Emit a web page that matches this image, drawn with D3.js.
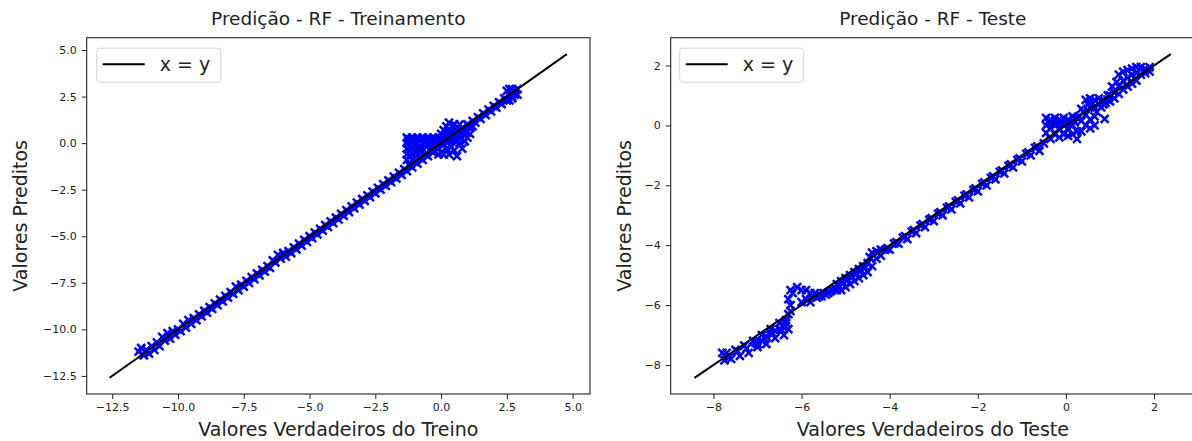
<!DOCTYPE html>
<html>
<head>
<meta charset="utf-8">
<script src="https://cdn.jsdelivr.net/npm/d3@7"></script>
<style>
body { margin: 0; background: #fff; }
text { font-family: "DejaVu Sans", sans-serif; }
</style>
</head>
<body>
<div id="chart"></div>
<script>
//Width and height
var w = 1192;
var h = 441;

// Treino: valores verdadeiros x preditos
var trainTrue = [
  -11.5,-11.4,-11.3,-11.2,-11.1,-11.0,-10.9,-10.8,-10.7,-10.6,
  -10.5,-10.4,-10.3,-10.2,-10.1,-10.0,-9.9,-9.8,-9.7,-9.6,
  -9.5,-9.4,-9.3,-9.2,-9.1,-9.0,-8.9,-8.8,-8.7,-8.6,
  -8.5,-8.4,-8.3,-8.2,-8.1,-8.0,-7.9,-7.8,-7.7,-7.6,
  -7.5,-7.4,-7.3,-7.2,-7.1,-7.0,-6.9,-6.8,-6.7,-6.6,
  -6.5,-6.4,-6.3,-6.2,-6.1,-6.0,-5.9,-5.8,-5.7,-5.6,
  -5.5,-5.4,-5.3,-5.2,-5.1,-5.0,-4.9,-4.8,-4.7,-4.6,
  -4.5,-4.4,-4.3,-4.2,-4.1,-4.0,-3.9,-3.8,-3.7,-3.6,
  -3.5,-3.4,-3.3,-3.2,-3.1,-3.0,-2.9,-2.8,-2.7,-2.6,
  -2.5,-2.4,-2.3,-2.2,-2.1,-2.0,-1.9,-1.8,-1.7,-1.6,
  -1.5,-1.4,-1.3,-1.2,-1.1,-1.0,-0.9,-0.8,-0.7,-0.6,
  -0.5,-0.4,-0.3,-0.2,-0.1,0.0,0.1,0.2,0.3,0.4,
  0.5,0.6,0.7,0.8,0.9,1.0,1.1,1.2,1.3,1.4,
  1.5,1.6,1.7,1.8,1.9,2.0,2.1,2.2,2.3,2.4,
  2.5,2.6,2.7,2.8,2.9,
  -1.3,-1.3,-1.3,-1.3,-1.2,-1.2,-1.2,-1.1,-1.1,-1.1,-1.0,-1.0,-1.0,-0.9,-0.9,-0.9,
  -0.8,-0.8,-0.8,-0.7,-0.7,-0.7,-0.6,-0.6,-0.5,-0.5,-0.4,-0.4,-0.3,-0.3,-0.2,-0.1,
  0.0,0.0,0.1,0.1,0.2,0.2,0.3,0.3,0.4,0.4,0.5,0.5,0.6,0.6,0.7,0.7,0.8,0.8,0.9,0.9,
  1.0,1.0,1.1,1.1,1.2,-0.1,0.2,0.4,0.6,-1.3,-1.2,-1.1,
  2.5,2.6,2.7,2.8,2.9,2.7,2.6,
  -1.25,-1.15,-1.05,-0.95,-0.85,-0.75,-0.65,-0.55,-0.45,-0.35,-0.25,-0.15,
  0.05,0.15,0.25,0.35,0.45,0.55,0.65,0.75
];
var trainPred = [
  -11.2,-11.0,-11.4,-11.1,-11.3,-10.9,-11.1,-10.7,-10.9,-10.4,
  -10.6,-10.2,-10.5,-10.1,-10.3,-10.0,-10.1,-9.7,-9.9,-9.5,
  -9.7,-9.4,-9.5,-9.2,-9.3,-9.0,-9.1,-8.8,-8.9,-8.6,
  -8.7,-8.4,-8.5,-8.2,-8.3,-8.0,-8.1,-7.7,-7.9,-7.6,
  -7.7,-7.4,-7.5,-7.2,-7.3,-7.0,-7.1,-6.8,-6.9,-6.6,
  -6.7,-6.3,-6.4,-6.0,-6.2,-5.9,-6.1,-5.8,-5.9,-5.6,
  -5.7,-5.4,-5.5,-5.2,-5.3,-5.0,-5.1,-4.8,-4.9,-4.6,
  -4.7,-4.4,-4.5,-4.2,-4.3,-4.0,-4.1,-3.8,-3.9,-3.6,
  -3.7,-3.4,-3.5,-3.2,-3.3,-3.0,-3.1,-2.8,-2.9,-2.6,
  -2.7,-2.4,-2.5,-2.2,-2.3,-2.0,-2.1,-1.8,-1.9,-1.6,
  -1.7,-1.4,-1.5,-1.2,-1.3,-1.0,-1.1,-0.8,-0.9,-0.6,
  -0.7,-0.4,-0.5,-0.2,-0.3,0.0,-0.1,0.2,0.1,0.4,
  0.3,0.6,0.5,0.8,0.7,1.0,0.9,1.2,1.1,1.4,
  1.3,1.6,1.5,1.8,1.7,2.0,1.9,2.2,2.1,2.4,
  2.3,2.6,2.5,2.8,2.6,
  0.3,0.0,-0.3,-0.6,0.2,-0.1,-0.4,0.3,-0.2,-0.6,0.2,-0.1,-0.4,0.3,0.0,-0.3,
  0.2,-0.2,-0.5,0.3,0.0,-0.3,0.2,-0.1,0.3,0.0,0.2,-0.1,0.3,0.1,0.2,0.3,
  0.5,-0.5,0.7,-0.6,0.9,-0.3,1.1,-0.6,0.9,-0.2,1.0,-0.4,0.8,-0.7,1.0,0.0,0.7,-0.3,0.4,0.1,
  0.6,0.3,0.5,0.8,0.9,-0.6,0.5,0.6,0.2,-0.9,-0.7,-0.9,
  2.8,2.9,2.9,2.6,2.9,2.4,2.3,
  0.15,-0.25,0.1,-0.5,0.15,-0.35,0.05,-0.2,0.1,-0.25,0.05,0.1,
  0.3,0.4,0.6,0.2,0.5,0.1,0.4,0.3
];

// Teste: valores verdadeiros x preditos
var testTrue = [
  -7.8,-7.75,-7.7,-7.6,-7.5,-7.4,-7.3,-7.2,-7.1,-7.0,
  -6.9,-6.8,-6.7,-6.6,-6.5,-6.4,-6.35,-6.3,-6.25,-6.3,
  -6.25,-6.3,-6.2,-6.25,-6.1,-6.0,-6.0,-5.9,-5.9,-5.8,
  -5.8,-5.7,-5.6,-5.5,-5.4,-5.3,-5.2,-5.2,-5.1,-5.1,
  -5.0,-5.0,-4.9,-4.9,-4.8,-4.8,-4.7,-4.7,-4.6,-4.6,
  -4.5,-4.5,-4.45,-4.4,-4.4,-4.3,-4.3,-4.2,-4.2,-4.1,
  -4.0,-3.9,-3.8,-3.7,-3.6,-3.5,-3.4,-3.3,-3.2,-3.1,
  -3.0,-2.9,-2.8,-2.7,-2.6,-2.5,-2.4,-2.3,-2.2,-2.1,
  -2.0,-1.9,-1.8,-1.7,-1.6,-1.5,-1.4,-1.3,-1.2,-1.1,
  -1.0,-0.9,-0.8,-0.7,-0.6,-0.5,
  -7.0,-6.9,-6.8,-6.7,-6.6,-6.5,-6.4,-6.35,
  -0.45,-0.45,-0.45,-0.35,-0.35,-0.35,-0.25,-0.25,-0.25,-0.15,-0.15,-0.15,
  -0.05,-0.05,-0.05,0.05,0.05,0.05,0.15,0.15,0.15,0.25,0.25,0.25,
  0.35,0.35,0.35,0.45,0.45,0.45,0.55,0.55,0.55,0.55,0.65,0.65,0.65,0.65,
  0.75,0.75,0.85,0.85,0.95,0.95,0.88,
  1.0,1.0,1.05,1.1,1.1,1.15,1.2,1.2,1.2,1.3,1.3,1.3,1.4,1.4,1.4,
  1.5,1.5,1.5,1.6,1.6,1.6,1.7,1.7,1.8,1.8,1.9,1.9,
  -7.65,-7.45,-7.25,-7.05,-6.85,-6.65,-6.45,
  -5.75,-5.65,-5.55,-5.45,-5.35,-5.25,-5.15,-5.05,-4.95,-4.85,-4.75,-4.65,-4.55,
  -4.05,-3.85,-3.65,-3.45,-3.25,-3.05,-2.85,-2.65,-2.45,-2.25,-2.05,-1.85,-1.65,
  -1.45,-1.25,-1.05,-0.85,-0.65,
  -0.4,-0.3,-0.2,-0.1,0.0,0.1,0.2,0.3,0.4,0.5,0.6,0.7,0.8,0.9
];
var testPred = [
  -7.6,-7.85,-7.6,-7.8,-7.5,-7.7,-7.35,-7.6,-7.2,-7.4,
  -7.0,-7.3,-6.8,-7.1,-6.6,-7.0,-6.5,-6.8,-6.2,-6.3,
  -6.0,-5.8,-5.6,-5.5,-5.4,-5.5,-5.9,-5.5,-5.8,-5.6,
  -5.9,-5.6,-5.7,-5.6,-5.6,-5.5,-5.3,-5.5,-5.2,-5.5,
  -5.1,-5.4,-5.0,-5.3,-4.9,-5.2,-4.8,-5.1,-4.7,-5.0,
  -4.6,-4.9,-4.4,-4.25,-4.7,-4.2,-4.45,-4.15,-4.35,-4.15,
  -4.15,-3.95,-3.95,-3.75,-3.8,-3.55,-3.6,-3.35,-3.4,-3.15,
  -3.2,-2.95,-3.0,-2.75,-2.8,-2.55,-2.6,-2.35,-2.4,-2.15,
  -2.2,-1.95,-2.0,-1.75,-1.8,-1.55,-1.6,-1.35,-1.4,-1.15,
  -1.2,-0.95,-1.0,-0.75,-0.85,-0.6,
  -7.3,-7.2,-7.05,-6.95,-6.85,-6.8,-6.75,-6.6,
  0.25,0.0,-0.25,0.2,-0.1,-0.45,0.25,0.0,-0.3,0.2,-0.1,-0.4,
  0.25,0.0,-0.3,0.2,-0.1,-0.35,0.3,0.0,-0.3,0.25,-0.2,-0.45,
  0.55,0.15,-0.2,0.85,0.35,0.0,0.9,0.6,0.2,-0.1,0.85,0.6,0.3,0.0,
  0.9,0.7,0.85,0.7,0.85,1.0,0.22,
  1.0,0.8,1.3,1.1,0.9,1.45,1.7,1.3,1.05,1.8,1.5,1.2,1.85,1.6,1.3,
  1.9,1.7,1.4,1.95,1.75,1.5,1.95,1.7,1.9,1.75,1.95,1.8,
  -7.75,-7.55,-7.45,-7.25,-7.1,-6.95,-6.85,
  -5.7,-5.75,-5.7,-5.65,-5.55,-5.45,-5.35,-5.25,-5.15,-5.05,-4.95,-4.85,-4.75,
  -4.1,-3.9,-3.7,-3.5,-3.3,-3.1,-2.9,-2.7,-2.5,-2.3,-2.1,-1.9,-1.7,
  -1.5,-1.3,-1.1,-0.9,-0.7,
  0.1,0.1,0.05,0.1,0.1,0.05,0.1,0.3,0.45,0.7,0.75,0.45,0.6,0.75
];

// axis ticks and limits
var trainTicks = [-12.5, -10, -7.5, -5, -2.5, 0, 2.5, 5];
var testTicks = [-8, -6, -4, -2, 0, 2];
var trainLimits = [-13.47, 5.66];
var testLimits = [-8.97, 2.93];
// ends of the x = y reference line
var trainLine = [-12.6, 4.78];
var testLine = [-8.43, 2.38];

var titles = ["Predição - RF - Treinamento", "Predição - RF - Teste"];
var xLabels = ["Valores Verdadeiros do Treino", "Valores Verdadeiros do Teste"];
var yLabel = "Valores Preditos";
var legendLabel = "x = y";

var svg = d3.select("#chart")
            .append("svg")
            .attr("width", w)
            .attr("height", h);

var plotTop = 37.7, plotBottom = 394;

var panels = [
  { xs: trainTrue, ys: trainPred, lim: trainLimits, ticks: trainTicks, fmt: d3.format(".1f"),
    line: trainLine, title: titles[0], xLabel: xLabels[0], left: 86.7, right: 590, yLabelX: 27, legendDx: 10 },
  { xs: testTrue, ys: testPred, lim: testLimits, ticks: testTicks, fmt: d3.format("d"),
    line: testLine, title: titles[1], xLabel: xLabels[1], left: 670.7, right: 1195, yLabelX: 631, legendDx: 9 }
];

panels.forEach(function(p, k) {
  var xScale = d3.scaleLinear().domain(p.lim).range([p.left, p.right]);
  var yScale = d3.scaleLinear().domain(p.lim).range([plotBottom, plotTop]);

  var g = svg.append("g");

  g.append("clipPath")
   .attr("id", "clip" + k)
   .append("rect")
   .attr("x", p.left).attr("y", plotTop)
   .attr("width", p.right - p.left).attr("height", plotBottom - plotTop);

  //scatter, 'x' markers
  var pts = p.xs.map(function(d, i) { return [d, p.ys[i]]; });
  g.append("g")
   .attr("clip-path", "url(#clip" + k + ")")
   .selectAll("path")
   .data(pts)
   .enter()
   .append("path")
   .attr("transform", function(d) {
      return "translate(" + xScale(d[0]) + "," + yScale(d[1]) + ")";
   })
   .attr("d", "M-4,-4L4,4M-4,4L4,-4")
   .attr("stroke", "#0000ff")
   .attr("stroke-width", 2.5)
   .attr("fill", "none");

  //x = y line
  g.append("line")
   .attr("x1", xScale(p.line[0])).attr("y1", yScale(p.line[0]))
   .attr("x2", xScale(p.line[1])).attr("y2", yScale(p.line[1]))
   .attr("stroke", "#000")
   .attr("stroke-width", 2);

  //axes
  var xAxis = d3.axisBottom(xScale).tickValues(p.ticks).tickFormat(p.fmt).tickSize(5).tickPadding(4);
  var yAxis = d3.axisLeft(yScale).tickValues(p.ticks).tickFormat(p.fmt).tickSize(5).tickPadding(5);

  var gx = g.append("g")
   .attr("transform", "translate(0," + plotBottom + ")")
   .call(xAxis);
  var gy = g.append("g")
   .attr("transform", "translate(" + p.left + ",0)")
   .call(yAxis);

  [gx, gy].forEach(function(a) {
    a.select(".domain").remove();
    a.selectAll("line").attr("stroke", "#222");
    a.selectAll("text")
     .attr("fill", "#222")
     .style("font-size", "11px")
     .style("font-family", "DejaVu Sans");
  });

  //frame
  g.append("rect")
   .attr("x", p.left).attr("y", plotTop)
   .attr("width", p.right - p.left).attr("height", plotBottom - plotTop)
   .attr("fill", "none")
   .attr("stroke", "#222")
   .attr("stroke-width", 1.1);

  //title and labels
  var cx = (p.left + p.right) / 2;
  g.append("text")
   .attr("x", cx).attr("y", 25)
   .attr("text-anchor", "middle")
   .style("font-size", "18.5px")
   .attr("fill", "#222")
   .text(p.title);

  g.append("text")
   .attr("x", cx).attr("y", 436)
   .attr("text-anchor", "middle")
   .style("font-size", "19px")
   .attr("fill", "#222")
   .text(p.xLabel);

  g.append("text")
   .attr("transform", "translate(" + p.yLabelX + "," + ((plotTop + plotBottom) / 2) + ") rotate(-90)")
   .attr("text-anchor", "middle")
   .style("font-size", "19px")
   .attr("fill", "#222")
   .text(yLabel);

  //legend
  var lx = p.left + p.legendDx, ly = plotTop + 10.5;
  g.append("rect")
   .attr("x", lx).attr("y", ly)
   .attr("width", 124).attr("height", 34)
   .attr("rx", 3)
   .attr("fill", "#fff")
   .attr("fill-opacity", 0.8)
   .attr("stroke", "#d6d6d6");
  g.append("line")
   .attr("x1", lx + 6).attr("x2", lx + 48)
   .attr("y1", ly + 16).attr("y2", ly + 16)
   .attr("stroke", "#000")
   .attr("stroke-width", 2);
  g.append("text")
   .attr("x", lx + 63).attr("y", ly + 23)
   .style("font-size", "19px")
   .attr("fill", "#222")
   .text(legendLabel);
});
</script>
</body>
</html>
